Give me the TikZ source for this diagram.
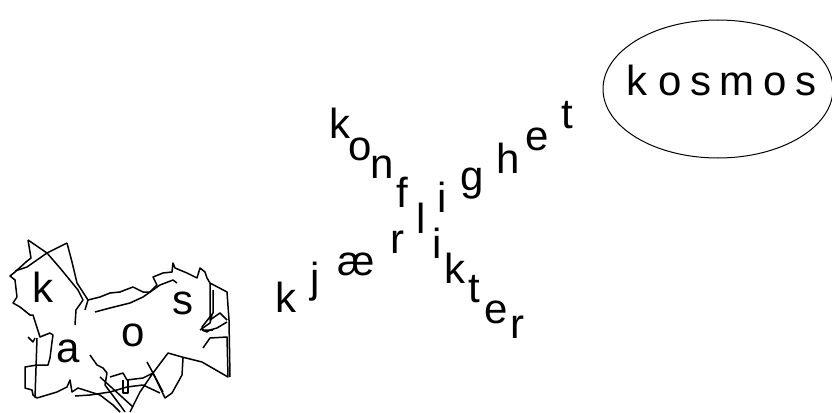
\documentclass[tikz,border=0pt]{standalone}
\usepackage{fontspec}
\setmainfont{Liberation Sans}
\usetikzlibrary{shapes.geometric}
\tikzset{
  letter/.style={
    inner sep = 0pt,
    anchor = base,
    font = \fontsize{42}{42}\selectfont
  },
  scribble/.style={
    line width = 1.5pt,
    line join = round
  },
  orbit/.style={
    draw,
    shape = ellipse,
    inner sep = 0pt,
    line width = 1pt,
    minimum width = 230pt,
    minimum height = 138pt
  },
}

\begin{document}
\begin{tikzpicture}[x=1pt,y=-1pt]
  \useasboundingbox (0,0) rectangle (832,412);
  % kaos
  \draw[scribble] (28,240) -- (31,258) -- (26,262) -- (15,272) -- (10,276) -- (15,280) -- (17,297) -- (13,303) -- (20,307) -- (30,315) -- (33,315) -- (40,337) -- (50,333) -- (53,335) -- (52,342) -- (50,358) -- (48,365) -- (37,365) -- (25,367) -- (25,388) -- (32,390) -- (33,395) -- (37,398) -- (57,392) -- (67,387) -- (70,380) -- (72,392) -- (78,388) -- (100,395) -- (113,405) -- (120,412);
  \draw[scribble] (28,240) -- (47,253) -- (60,268) -- (78,290) -- (83,300) -- (76,310) -- (75,325);
  \draw[scribble] (67,243) -- (47,253) -- (27,267) -- (15,271);
  \draw[scribble] (67,243) -- (72,262) -- (77,283) -- (88,300) -- (85,310);
  \draw[scribble] (88,300) -- (100,297) -- (110,293) -- (120,292) -- (125,290) -- (133,287) -- (143,292) -- (150,292) -- (157,285) -- (153,277) -- (163,273) -- (172,272) -- (173,263) -- (175,268) -- (187,273) -- (197,278) -- (200,268) -- (205,272) -- (207,278) -- (210,283) -- (227,292) -- (229,320) -- (230,377);
  \draw[scribble] (95,312) -- (110,308) -- (130,303) -- (143,297) -- (160,285) -- (173,280) -- (177,283);
  \draw[scribble] (210,283) -- (210,320) -- (220,313) -- (227,320);
  \draw[scribble] (213,290) -- (213,313) -- (202,327) -- (203,330) -- (213,330);
  \draw[scribble] (200,330) -- (210,323) -- (212,315);
  \draw[scribble] (202,330) -- (207,332) -- (210,330) -- (217,328) -- (227,322);
  \draw[scribble] (203,348) -- (210,338) -- (227,337) -- (228,377) -- (202,362) -- (182,357) -- (168,353) -- (153,373) -- (165,398) -- (172,393) -- (182,375) -- (183,358);
  \draw[scribble] (147,362) -- (153,373) -- (163,392);
  \draw[scribble] (75,396) -- (90,395) -- (110,392) -- (127,387) -- (143,385) -- (160,393);
  \draw[scribble] (110,377) -- (123,373) -- (127,380) -- (143,378) -- (153,373) -- (140,392) -- (130,412);
  \draw[scribble] (123,380) -- (123,393) -- (128,393) -- (128,380);
  \draw[scribble] (90,355) -- (97,365) -- (103,368) -- (107,373) -- (105,385) -- (120,405) -- (125,412);
  \draw[scribble] (100,377) -- (133,407);
  \draw[scribble] (37,338) -- (35,398);
  \draw[scribble] (28,337) -- (33,342) -- (35,338);
  \foreach \ch/\x/\y [count=\i] in {k/43/302, a/68/362, o/133/346, s/183/314}
    \node[letter] (kaos\i) at (\x,\y) {\ch};
  % kryss
  \node[letter] (cross) at (421,233) {l};
  \foreach \ch/\x/\y [count=\i] in {k/340/138, o/360/160, n/382/178, f/402/207, i/437/258, k/455/283, t/474/302, e/496/323, r/517/338}
    \node[letter] (konflikt\i) at (\x,\y) {\ch};
  \foreach \ch/\x/\y [count=\i] in {k/286/312, j/315/292, æ/356/275, r/397/253, i/442/212, g/472/190, h/508/173, e/537/150, t/567/128}
    \node[letter] (kjaer\i) at (\x,\y) {\ch};
  % kosmos
  \node[orbit] (kosmos) at (718,89) {};
  \foreach \ch/\x [count=\i] in {k/637, o/670, s/701, m/737, o/775, s/806}
    \node[letter] (kosmos\i) at (\x,95) {\ch};
\end{tikzpicture}
\end{document}
